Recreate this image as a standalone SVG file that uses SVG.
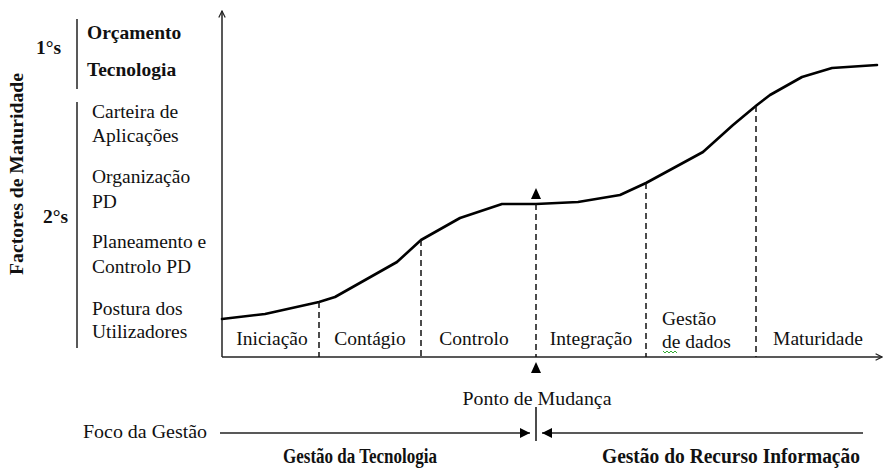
<svg xmlns="http://www.w3.org/2000/svg" width="884" height="470" viewBox="0 0 884 470">
<style>
text{font-family:"Liberation Serif","Times New Roman",serif;fill:#111;}
.t{font-size:19.5px;}
.b{font-size:19.5px;font-weight:bold;}
.bs{font-size:20px;font-weight:bold;}
.ax{stroke:#222;stroke-width:1.5;fill:none;}
.dash{stroke:#111;stroke-width:1.5;stroke-dasharray:6,4;fill:none;}
.curve{stroke:#000;stroke-width:2.6;fill:none;stroke-linejoin:round;stroke-linecap:round;}
.tri{fill:#000;}
</style>
<defs>
<marker id="open" viewBox="0 0 10 10" refX="9" refY="5" markerWidth="8" markerHeight="8" orient="auto" markerUnits="userSpaceOnUse">
<path d="M1,1 L9,5 L1,9" fill="none" stroke="#222" stroke-width="1.5"/>
</marker>
<marker id="fill" viewBox="0 0 10 10" refX="10" refY="5" markerWidth="12" markerHeight="10" orient="auto" markerUnits="userSpaceOnUse">
<path d="M0,0 L10,5 L0,10 Z" fill="#000"/>
</marker>
</defs>

<g id="axes">
<line class="ax" x1="222" y1="357" x2="222" y2="11" marker-end="url(#open)"/>
<line class="ax" x1="222" y1="357" x2="882" y2="357" marker-end="url(#open)"/>
</g>

<g id="title">
<text class="b" transform="translate(23,174) rotate(-90)" text-anchor="middle" textLength="202" lengthAdjust="spacingAndGlyphs">Factores de Maturidade</text>
</g>

<g id="primary">
<text class="b" x="36" y="54">1°s</text>
<line class="ax" x1="77" y1="19" x2="77" y2="89"/>
<text class="b" x="87" y="39">Orçamento</text>
<text class="b" x="87" y="76">Tecnologia</text>
</g>

<g id="secondary">
<text class="b" x="43" y="223">2°s</text>
<line class="ax" x1="77" y1="102" x2="77" y2="348"/>
<text class="t" x="92" y="118">Carteira de</text>
<text class="t" x="92" y="142">Aplicações</text>
<text class="t" x="92" y="183">Organização</text>
<text class="t" x="92" y="208">PD</text>
<text class="t" x="92" y="248">Planeamento e</text>
<text class="t" x="92" y="273">Controlo PD</text>
<text class="t" x="92" y="315">Postura dos</text>
<text class="t" x="92" y="338">Utilizadores</text>
</g>

<g id="curve">
<polyline class="curve" points="222,319 265,314 319,302 335,297 397,262 421,240 460,218 502,204 536,204 578,202 620,195 646,183 703,152 733,125 757,105 770,95 802,77 832,68 877,65"/>
</g>

<g id="connectors">
<line class="dash" x1="319" y1="302" x2="319" y2="357"/>
<line class="dash" x1="421" y1="240" x2="421" y2="357"/>
<line class="dash" x1="536" y1="204" x2="536" y2="357"/>
<line class="dash" x1="646" y1="183" x2="646" y2="357"/>
<line class="dash" x1="756" y1="106" x2="756" y2="357"/>
<polygon class="tri" points="536,188 531,199 541,199"/>
<polygon class="tri" points="536,362 531,373 541,373"/>
<line class="ax" x1="220" y1="433" x2="530" y2="433" marker-end="url(#fill)"/>
<line class="ax" x1="863" y1="433" x2="542" y2="433" marker-end="url(#fill)"/>
<line x1="536" y1="407" x2="536" y2="441" stroke="#111" stroke-width="1.5"/>
</g>

<g id="stages">
<text class="t" x="272" y="345" text-anchor="middle">Iniciação</text>
<text class="t" x="370" y="345" text-anchor="middle">Contágio</text>
<text class="t" x="474" y="345" text-anchor="middle">Controlo</text>
<text class="t" x="591" y="345" text-anchor="middle">Integração</text>
<text class="t" x="662" y="325">Gestão</text>
<text class="t" x="662" y="348">de dados</text>
<path d="M663,351 l2,2 l2,-2 l2,2 l2,-2 l2,2 l2,-2 l2,2" fill="none" stroke="#3a3" stroke-width="1"/>
<text class="t" x="818" y="345" text-anchor="middle">Maturidade</text>
</g>

<g id="bottom">
<text class="t" x="537" y="405" text-anchor="middle" textLength="149" lengthAdjust="spacingAndGlyphs">Ponto de Mudança</text>
<text class="t" x="83" y="438" font-size="20" textLength="124" lengthAdjust="spacingAndGlyphs">Foco da Gestão</text>
<text class="bs" x="283" y="463" textLength="154" lengthAdjust="spacingAndGlyphs">Gestão da Tecnologia</text>
<text class="bs" x="602" y="463" textLength="258" lengthAdjust="spacingAndGlyphs">Gestão do Recurso Informação</text>
</g>
</svg>
